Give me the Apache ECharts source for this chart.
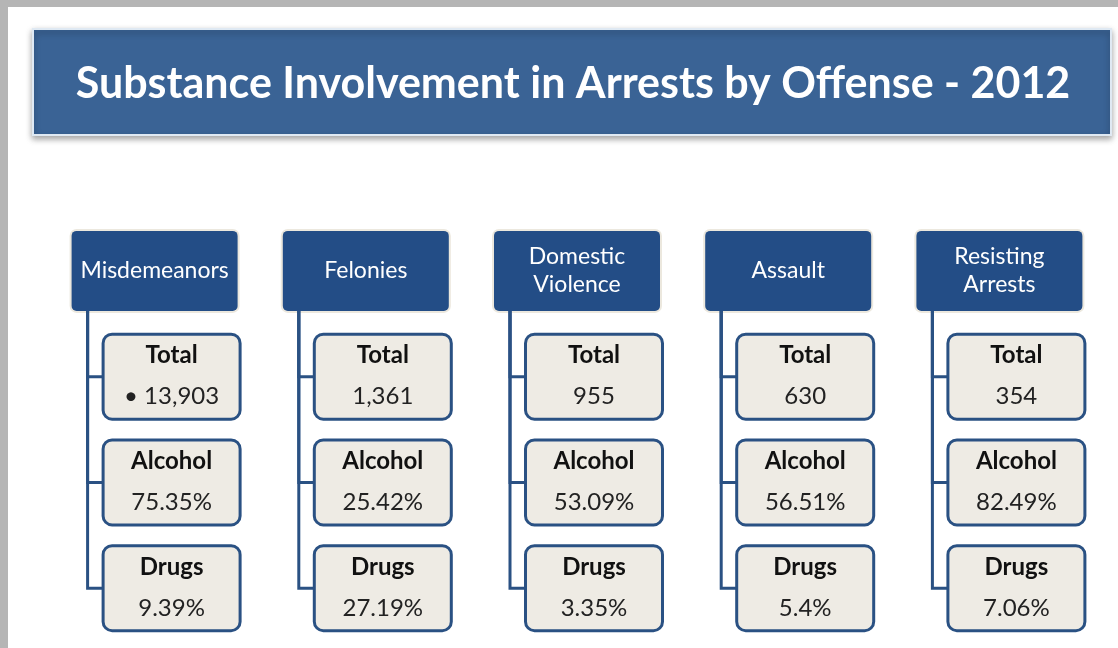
<!DOCTYPE html>
<html>
<head>
<meta charset="utf-8">
<script src="https://cdn.jsdelivr.net/npm/echarts@6/dist/echarts.min.js"></script>
<style>
html,body{margin:0;padding:0;background:#b5b5b5;}
#main{width:1118px;height:648px;}
</style>
</head>
<body>
<div id="main"></div>
<script>
// data
var offenses = ['Misdemeanors', 'Felonies', 'Domestic\nViolence', 'Assault', 'Resisting\nArrests'];
var rows = ['header', 'Total', 'Alcohol', 'Drugs'];
var totals = [13903, 1361, 955, 630, 354];
var totalPrefix = ['\u2022 ', '', '', '', ''];
var alcohol = [75.35, 25.42, 53.09, 56.51, 82.49];
var drugs = [9.39, 27.19, 3.35, 5.4, 7.06];

var headBlue = '#234d86';
var lineBlue = '#2a5183';

function fmtTotal(i){
    return totalPrefix[i] + totals[i].toLocaleString('en-US');
}
function cellText(i, r){
    if (r == 1) return fmtTotal(i);
    if (r == 2) return alcohol[i] + '%';
    return drugs[i] + '%';
}

var headData = [];
var childData = [];
for (var i = 0; i < offenses.length; i++) {
    headData.push([i, 0]);
    for (var r = 1; r < rows.length; r++) {
        childData.push([i, r]);
    }
}

// header boxes (dark blue)
function renderHead(params, api){
    var i = api.value(0);
    var c = api.coord([i, api.value(1)]);
    var w = 166, h = 80;
    return {
        type: 'group',
        children: [
            {type: 'rect', shape: {x: c[0] - w/2 - 2, y: c[1] - h/2 - 2, width: w + 4, height: h + 4, r: 7},
             style: {fill: '#ece8de'}},
            {type: 'rect', shape: {x: c[0] - w/2, y: c[1] - h/2, width: w, height: h, r: 5},
             style: {fill: headBlue}},
            {type: 'text', x: c[0], y: c[1],
             style: {text: offenses[i], fill: '#ffffff', fontFamily: 'Lato', fontSize: 23,
                     lineHeight: 28, align: 'center', verticalAlign: 'middle'}}
        ]
    };
}

// child boxes + connector lines
function renderChild(params, api){
    var i = api.value(0), r = api.value(1);
    var c = api.coord([i, r]);
    var top = api.coord([i, 0]);
    var w = 137, h = 85;
    var cx = c[0] + 17;
    var bx = cx - w/2;
    var lx = c[0] - 67;
    return {
        type: 'group',
        children: [
            {type: 'polyline', shape: {points: [[lx, top[1] + 40], [lx, c[1]], [bx, c[1]]]},
             style: {stroke: lineBlue, lineWidth: 3, fill: null}},
            {type: 'rect', shape: {x: bx, y: c[1] - h/2, width: w, height: h, r: 9},
             style: {fill: '#eeebe4', stroke: lineBlue, lineWidth: 3}},
            {type: 'text', x: cx, y: c[1] - 21,
             style: {text: rows[r], fill: '#111', fontFamily: 'Lato', fontWeight: 'bold', fontSize: 24,
                     align: 'center', verticalAlign: 'middle'}},
            {type: 'text', x: cx, y: c[1] + 20,
             style: {text: cellText(i, r), fill: '#222', fontFamily: 'Lato', fontSize: 24,
                     align: 'center', verticalAlign: 'middle'}}
        ]
    };
}

var myChart = echarts.init(document.getElementById('main'));
myChart.setOption({
    backgroundColor: '#b5b5b5',
    animation: false,
    title: {
        text: 'Substance Involvement in Arrests by Offense - 2012',
        left: 568,
        top: 58,
        textAlign: 'center',
        textStyle: {color: '#fff', fontFamily: 'Lato', fontWeight: 'bold', fontSize: 43}
    },
    graphic: [
        {type: 'rect', shape: {x: 8, y: 7, width: 1110, height: 641}, style: {fill: '#ffffff'}},
        {type: 'rect', shape: {x: 33, y: 29, width: 1078, height: 106},
         style: {fill: '#3a6395', stroke: '#dfe9f3', lineWidth: 2,
                 shadowBlur: 6, shadowOffsetY: 3, shadowColor: 'rgba(0,0,0,0.35)'}}
    ],
    grid: {left: 49, width: 1056, top: 218, height: 423},
    xAxis: {type: 'category', data: offenses, show: false},
    yAxis: {type: 'category', data: rows, inverse: true, show: false},
    series: [
        {type: 'custom', renderItem: renderHead, data: headData, silent: true},
        {type: 'custom', renderItem: renderChild, data: childData, silent: true}
    ]
});
</script>
</body>
</html>
